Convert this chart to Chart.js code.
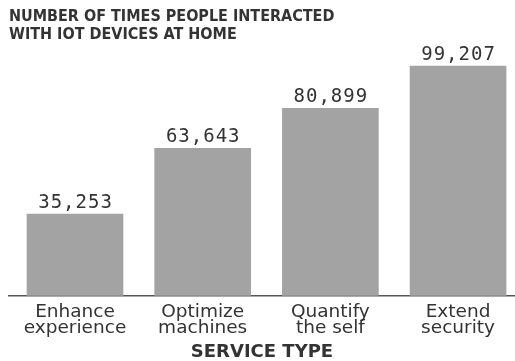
<!DOCTYPE html>
<html><head><meta charset="utf-8">
<script src="https://cdn.jsdelivr.net/npm/chart.js@4"></script>
<style>html,body{margin:0;padding:0;background:#fff}#wrap{width:515px;height:361px}</style>
</head><body><div id="wrap"><canvas id="c" width="515" height="361"></canvas></div>
<script>
const categories = [["Enhance","experience"],["Optimize","machines"],["Quantify","the self"],["Extend","security"]];
const values = [35253, 63643, 80899, 99207];
const titleLines = ["NUMBER OF TIMES PEOPLE INTERACTED","WITH IOT DEVICES AT HOME"];
const xAxisTitle = "SERVICE TYPE";

const points = values.map((v,i)=>({x:i,y:v}));

const valueLabels = {
  id:'valueLabels',
  afterDatasetsDraw(chart){
    const ctx = chart.ctx;
    const meta = chart.getDatasetMeta(0);
    ctx.save();
    ctx.letterSpacing = '1px';
    ctx.font = '19px "DejaVu Sans Mono"';
    ctx.fillStyle = '#333';
    ctx.textAlign = 'center';
    ctx.textBaseline = 'alphabetic';
    meta.data.forEach((el,i)=>{
      ctx.fillText(values[i].toLocaleString('en-US'), el.x + 0.5, el.y - 6);
    });
    ctx.restore();
  }
};

new Chart(document.getElementById('c'), {
  type:'bar',
  data:{datasets:[{data:points, backgroundColor:'#a3a3a3', borderWidth:0, barThickness:96}]},
  options:{
    responsive:false, animation:false,
    layout:{padding:{left:9,right:0,top:0,bottom:0}},
    plugins:{
      legend:{display:false}, tooltip:{enabled:false},
      title:{display:true, text:titleLines, align:'start', color:'#333',
        font:{family:'"DejaVu Sans Condensed"', size:16, weight:'bold', lineHeight:1.125}, padding:{top:8,bottom:0}}
    },
    scales:{
      x:{type:'linear', offset:false, min:-0.517, max:3.446,
        afterBuildTicks(scale){ scale.ticks = categories.map((c,i)=>({value:i})); },
        ticks:{callback:(v)=>categories[v], color:'#333', padding:8, maxRotation:0, autoSkip:false,
          font:{family:'"DejaVu Sans"', size:18.5, lineHeight:0.88}},
        grid:{display:false, drawTicks:false},
        border:{display:true, color:'#555', width:1.5},
        title:{display:true, text:xAxisTitle, color:'#333', padding:{top:0,bottom:0.5},
          font:{family:'"DejaVu Sans"', size:18, weight:'bold', lineHeight:0.9}}
      },
      y:{display:false, min:0, max:108700}
    }
  },
  plugins:[valueLabels]
});
</script></body></html>
